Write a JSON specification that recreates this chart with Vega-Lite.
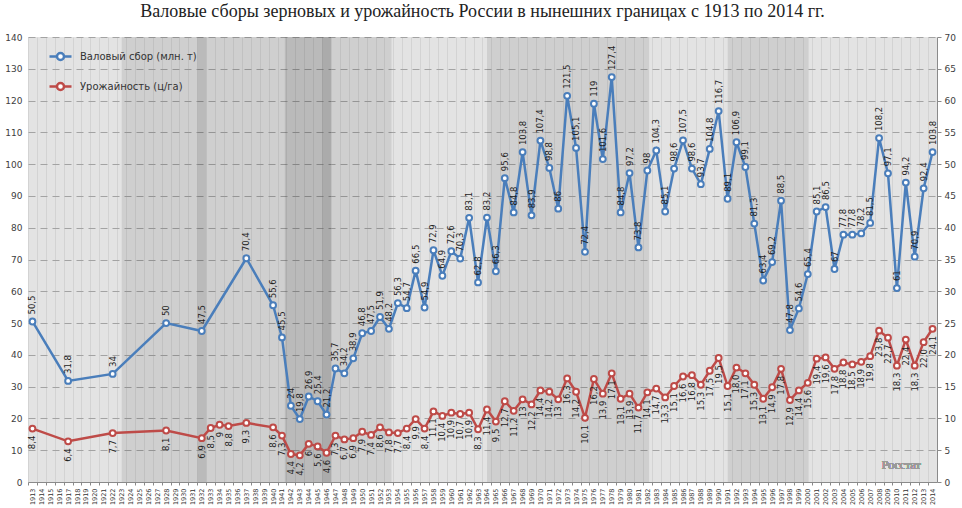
{
  "$schema": "https://vega.github.io/schema/vega-lite/v6.json",
  "width": 909,
  "height": 445,
  "autosize": {"type": "none"},
  "padding": {"left": 28, "top": 37, "right": 25, "bottom": 26},
  "background": "white",
  "title": {
    "text": "Валовые сборы зерновых и урожайность России в нынешних границах с 1913 по 2014 гг.",
    "font": "Liberation Serif",
    "fontSize": 18,
    "fontWeight": "normal",
    "color": "#222222",
    "anchor": "middle",
    "offset": 12
  },
  "datasets": {
    "bands": [
      {"year": 1912.5, "end": 1923, "k": "l"},
      {"year": 1923, "end": 1931.5, "k": "m"},
      {"year": 1931.5, "end": 1932.5, "k": "d"},
      {"year": 1932.5, "end": 1941.3, "k": "m"},
      {"year": 1941.3, "end": 1945.5, "k": "d"},
      {"year": 1945.5, "end": 1946.5, "k": "dd"},
      {"year": 1946.5, "end": 1953.3, "k": "m"},
      {"year": 1953.3, "end": 1964, "k": "l"},
      {"year": 1964, "end": 1982.2, "k": "m"},
      {"year": 1982.2, "end": 1991, "k": "l"},
      {"year": 1991, "end": 2000.1, "k": "m"},
      {"year": 2000.1, "end": 2014.5, "k": "l"}
    ],
    "gross": [
      {"year": 1913, "v": 50.5, "t": "50,5"},
      {"year": 1917, "v": 31.8, "t": "31,8"},
      {"year": 1922, "v": 34, "t": "34"},
      {"year": 1928, "v": 50, "t": "50"},
      {"year": 1932, "v": 47.5, "t": "47,5"},
      {"year": 1937, "v": 70.4, "t": "70,4"},
      {"year": 1940, "v": 55.6, "t": "55,6"},
      {"year": 1941, "v": 45.5, "t": "45,5"},
      {"year": 1942, "v": 24, "t": "24"},
      {"year": 1943, "v": 19.8, "t": "19,8"},
      {"year": 1944, "v": 26.9, "t": "26,9"},
      {"year": 1945, "v": 25.4, "t": "25,4"},
      {"year": 1946, "v": 21.2, "t": "21,2"},
      {"year": 1947, "v": 35.7, "t": "35,7"},
      {"year": 1948, "v": 34.2, "t": "34,2"},
      {"year": 1949, "v": 38.9, "t": "38,9"},
      {"year": 1950, "v": 46.8, "t": "46,8"},
      {"year": 1951, "v": 47.5, "t": "47,5"},
      {"year": 1952, "v": 51.9, "t": "51,9"},
      {"year": 1953, "v": 48.2, "t": "48,2"},
      {"year": 1954, "v": 56.3, "t": "56,3"},
      {"year": 1955, "v": 54.7, "t": "54,7"},
      {"year": 1956, "v": 66.5, "t": "66,5"},
      {"year": 1957, "v": 54.9, "t": "54,9"},
      {"year": 1958, "v": 72.9, "t": "72,9"},
      {"year": 1959, "v": 64.9, "t": "64,9"},
      {"year": 1960, "v": 72.6, "t": "72,6"},
      {"year": 1961, "v": 70.3, "t": "70,3"},
      {"year": 1962, "v": 83.1, "t": "83,1"},
      {"year": 1963, "v": 62.8, "t": "62,8"},
      {"year": 1964, "v": 83.2, "t": "83,2"},
      {"year": 1965, "v": 66.3, "t": "66,3"},
      {"year": 1966, "v": 95.6, "t": "95,6"},
      {"year": 1967, "v": 84.8, "t": "84,8"},
      {"year": 1968, "v": 103.8, "t": "103,8"},
      {"year": 1969, "v": 83.9, "t": "83,9"},
      {"year": 1970, "v": 107.4, "t": "107,4"},
      {"year": 1971, "v": 98.8, "t": "98,8"},
      {"year": 1972, "v": 86, "t": "86"},
      {"year": 1973, "v": 121.5, "t": "121,5"},
      {"year": 1974, "v": 105.1, "t": "105,1"},
      {"year": 1975, "v": 72.4, "t": "72,4"},
      {"year": 1976, "v": 119, "t": "119"},
      {"year": 1977, "v": 101.6, "t": "101,6"},
      {"year": 1978, "v": 127.4, "t": "127,4"},
      {"year": 1979, "v": 84.8, "t": "84,8"},
      {"year": 1980, "v": 97.2, "t": "97,2"},
      {"year": 1981, "v": 73.8, "t": "73,8"},
      {"year": 1982, "v": 98, "t": "98"},
      {"year": 1983, "v": 104.3, "t": "104,3"},
      {"year": 1984, "v": 85.1, "t": "85,1"},
      {"year": 1985, "v": 98.6, "t": "98,6"},
      {"year": 1986, "v": 107.5, "t": "107,5"},
      {"year": 1987, "v": 98.6, "t": "98,6"},
      {"year": 1988, "v": 93.7, "t": "93,7"},
      {"year": 1989, "v": 104.8, "t": "104,8"},
      {"year": 1990, "v": 116.7, "t": "116,7"},
      {"year": 1991, "v": 89.1, "t": "89,1"},
      {"year": 1992, "v": 106.9, "t": "106,9"},
      {"year": 1993, "v": 99.1, "t": "99,1"},
      {"year": 1994, "v": 81.3, "t": "81,3"},
      {"year": 1995, "v": 63.4, "t": "63,4"},
      {"year": 1996, "v": 69.2, "t": "69,2"},
      {"year": 1997, "v": 88.5, "t": "88,5"},
      {"year": 1998, "v": 47.8, "t": "47,8"},
      {"year": 1999, "v": 54.6, "t": "54,6"},
      {"year": 2000, "v": 65.4, "t": "65,4"},
      {"year": 2001, "v": 85.1, "t": "85,1"},
      {"year": 2002, "v": 86.5, "t": "86,5"},
      {"year": 2003, "v": 67, "t": "67"},
      {"year": 2004, "v": 77.8, "t": "77,8"},
      {"year": 2005, "v": 77.8, "t": "77,8"},
      {"year": 2006, "v": 78.2, "t": "78,2"},
      {"year": 2007, "v": 81.5, "t": "81,5"},
      {"year": 2008, "v": 108.2, "t": "108,2"},
      {"year": 2009, "v": 97.1, "t": "97,1"},
      {"year": 2010, "v": 61, "t": "61"},
      {"year": 2011, "v": 94.2, "t": "94,2"},
      {"year": 2012, "v": 70.9, "t": "70,9"},
      {"year": 2013, "v": 92.4, "t": "92,4"},
      {"year": 2014, "v": 103.8, "t": "103,8"}
    ],
    "yield": [
      {"year": 1913, "v": 8.4, "t": "8,4"},
      {"year": 1917, "v": 6.4, "t": "6,4"},
      {"year": 1922, "v": 7.7, "t": "7,7"},
      {"year": 1928, "v": 8.1, "t": "8,1"},
      {"year": 1932, "v": 6.9, "t": "6,9"},
      {"year": 1933, "v": 8.5, "t": "8,5"},
      {"year": 1934, "v": 9, "t": "9"},
      {"year": 1935, "v": 8.8, "t": "8,8"},
      {"year": 1937, "v": 9.3, "t": "9,3"},
      {"year": 1940, "v": 8.6, "t": "8,6"},
      {"year": 1941, "v": 7.3, "t": "7,3"},
      {"year": 1942, "v": 4.4, "t": "4,4"},
      {"year": 1943, "v": 4.2, "t": "4,2"},
      {"year": 1944, "v": 6, "t": "6"},
      {"year": 1945, "v": 5.6, "t": "5,6"},
      {"year": 1946, "v": 4.6, "t": "4,6"},
      {"year": 1947, "v": 7.3, "t": "7,3"},
      {"year": 1948, "v": 6.7, "t": "6,7"},
      {"year": 1949, "v": 6.9, "t": "6,9"},
      {"year": 1950, "v": 7.9, "t": "7,9"},
      {"year": 1951, "v": 7.4, "t": "7,4"},
      {"year": 1952, "v": 8.6, "t": "8,6"},
      {"year": 1953, "v": 7.8, "t": "7,8"},
      {"year": 1954, "v": 7.7, "t": "7,7"},
      {"year": 1955, "v": 8.4, "t": "8,4"},
      {"year": 1956, "v": 9.9, "t": "9,9"},
      {"year": 1957, "v": 8.4, "t": "8,4"},
      {"year": 1958, "v": 11.1, "t": "11,1"},
      {"year": 1959, "v": 10.4, "t": "10,4"},
      {"year": 1960, "v": 10.9, "t": "10,9"},
      {"year": 1961, "v": 10.7, "t": "10,7"},
      {"year": 1962, "v": 10.9, "t": "10,9"},
      {"year": 1963, "v": 8.3, "t": "8,3"},
      {"year": 1964, "v": 11.4, "t": "11,4"},
      {"year": 1965, "v": 9.5, "t": "9,5"},
      {"year": 1966, "v": 12.7, "t": "12,7"},
      {"year": 1967, "v": 11.2, "t": "11,2"},
      {"year": 1968, "v": 13, "t": "13"},
      {"year": 1969, "v": 12.2, "t": "12,2"},
      {"year": 1970, "v": 14.4, "t": "14,4"},
      {"year": 1971, "v": 14.2, "t": "14,2"},
      {"year": 1972, "v": 13, "t": "13"},
      {"year": 1973, "v": 16.3, "t": "16,3"},
      {"year": 1974, "v": 14.2, "t": "14,2"},
      {"year": 1975, "v": 10.1, "t": "10,1"},
      {"year": 1976, "v": 16.2, "t": "16,2"},
      {"year": 1977, "v": 13.9, "t": "13,9"},
      {"year": 1978, "v": 17.1, "t": "17,1"},
      {"year": 1979, "v": 13.1, "t": "13,1"},
      {"year": 1980, "v": 13.9, "t": "13,9"},
      {"year": 1981, "v": 11.7, "t": "11,7"},
      {"year": 1982, "v": 14.1, "t": "14,1"},
      {"year": 1983, "v": 14.7, "t": "14,7"},
      {"year": 1984, "v": 13.3, "t": "13,3"},
      {"year": 1985, "v": 15.1, "t": "15,1"},
      {"year": 1986, "v": 16.6, "t": "16,6"},
      {"year": 1987, "v": 16.8, "t": "16,8"},
      {"year": 1988, "v": 15.3, "t": "15,3"},
      {"year": 1989, "v": 17.5, "t": "17,5"},
      {"year": 1990, "v": 19.5, "t": "19,5"},
      {"year": 1991, "v": 15.1, "t": "15,1"},
      {"year": 1992, "v": 18.0, "t": "18,0"},
      {"year": 1993, "v": 17.1, "t": "17,1"},
      {"year": 1994, "v": 15.3, "t": "15,3"},
      {"year": 1995, "v": 13.1, "t": "13,1"},
      {"year": 1996, "v": 14.9, "t": "14,9"},
      {"year": 1997, "v": 17.8, "t": "17,8"},
      {"year": 1998, "v": 12.9, "t": "12,9"},
      {"year": 1999, "v": 14.4, "t": "14,4"},
      {"year": 2000, "v": 15.6, "t": "15,6"},
      {"year": 2001, "v": 19.4, "t": "19,4"},
      {"year": 2002, "v": 19.6, "t": "19,6"},
      {"year": 2003, "v": 17.8, "t": "17,8"},
      {"year": 2004, "v": 18.8, "t": "18,8"},
      {"year": 2005, "v": 18.5, "t": "18,5"},
      {"year": 2006, "v": 18.9, "t": "18,9"},
      {"year": 2007, "v": 19.8, "t": "19,8"},
      {"year": 2008, "v": 23.8, "t": "23,8"},
      {"year": 2009, "v": 22.7, "t": "22,7"},
      {"year": 2010, "v": 18.3, "t": "18,3"},
      {"year": 2011, "v": 22.4, "t": "22,4"},
      {"year": 2012, "v": 18.3, "t": "18,3"},
      {"year": 2013, "v": 22.0, "t": "22,0"},
      {"year": 2014, "v": 24.1, "t": "24,1"}
    ]
  },
  "encoding": {
    "x": {
      "field": "year",
      "type": "quantitative",
      "scale": {"domain": [1912.5, 2014.5], "nice": false, "zero": false},
      "axis": {
        "title": null,
        "values": [1913,1914,1915,1916,1917,1918,1919,1920,1921,1922,1923,1924,1925,1926,1927,1928,1929,1930,1931,1932,1933,1934,1935,1936,1937,1938,1939,1940,1941,1942,1943,1944,1945,1946,1947,1948,1949,1950,1951,1952,1953,1954,1955,1956,1957,1958,1959,1960,1961,1962,1963,1964,1965,1966,1967,1968,1969,1970,1971,1972,1973,1974,1975,1976,1977,1978,1979,1980,1981,1982,1983,1984,1985,1986,1987,1988,1989,1990,1991,1992,1993,1994,1995,1996,1997,1998,1999,2000,2001,2002,2003,2004,2005,2006,2007,2008,2009,2010,2011,2012,2013,2014],
        "format": "d",
        "labelAngle": 270,
        "labelFont": "DejaVu Sans",
        "labelFontSize": 6.5,
        "labelColor": "#333333",
        "labelPadding": 3,
        "labelOverlap": false,
        "labelFlush": false,
        "labelBound": false,
        "tickOffset": -4.456,
        "labelOffset": 4.456,
        "grid": true,
        "gridColor": "#eeeeee",
        "gridWidth": 1,
        "ticks": true,
        "tickSize": 3,
        "tickColor": "#8a8a8a",
        "domainColor": "#8a8a8a"
      }
    }
  },
  "layer": [
    {
      "data": {"name": "bands"},
      "mark": {"type": "rect"},
      "encoding": {
        "x2": {"field": "end"},
        "fill": {
          "field": "k",
          "type": "nominal",
          "scale": {"domain": ["l", "m", "d", "dd"], "range": ["rgba(0,0,0,0.11)", "rgba(0,0,0,0.19)", "rgba(0,0,0,0.27)", "rgba(0,0,0,0.33)"]},
          "legend": null
        }
      }
    },
    {
      "data": {"name": "yield"},
      "encoding": {
        "y": {
          "field": "v",
          "type": "quantitative",
          "scale": {"domain": [0, 70], "nice": false},
          "axis": {
            "orient": "right",
            "title": null,
            "values": [0,5,10,15,20,25,30,35,40,45,50,55,60,65,70],
            "grid": false,
            "domain": true,
            "domainColor": "#8a8a8a",
            "ticks": true,
            "tickSize": 4,
            "tickColor": "#8a8a8a",
            "labelFont": "DejaVu Sans",
            "labelFontSize": 9,
            "labelColor": "#404040",
            "labelPadding": 3
          }
        },
        "color": {
          "datum": "Урожайность (ц/га)",
          "type": "nominal",
          "scale": {"domain": ["Валовый сбор (млн. т)", "Урожайность (ц/га)"], "range": ["#4A7EBB", "#BE4B48"]}
        }
      },
      "layer": [
        {"mark": {"type": "line", "strokeWidth": 2.5}},
        {"mark": {"type": "point", "filled": false, "fill": "white", "size": 34, "strokeWidth": 2, "opacity": 1}},
        {
          "mark": {"type": "text", "angle": 270, "align": "right", "baseline": "middle", "dx": -7, "font": "DejaVu Sans", "fontSize": 8.5},
          "encoding": {"text": {"field": "t"}, "color": {"value": "#222222"}}
        }
      ]
    },
    {
      "data": {"name": "gross"},
      "encoding": {
        "y": {
          "field": "v",
          "type": "quantitative",
          "scale": {"domain": [0, 140], "nice": false},
          "axis": {
            "orient": "left",
            "title": null,
            "values": [0,10,20,30,40,50,60,70,80,90,100,110,120,130,140],
            "grid": true,
            "gridColor": "#b8b8b8",
            "gridDash": [7, 5],
            "gridWidth": 1,
            "domain": false,
            "ticks": false,
            "labelFont": "DejaVu Sans",
            "labelFontSize": 9,
            "labelColor": "#404040",
            "labelPadding": 6
          }
        },
        "color": {
          "datum": "Валовый сбор (млн. т)",
          "type": "nominal",
          "scale": {"domain": ["Валовый сбор (млн. т)", "Урожайность (ц/га)"], "range": ["#4A7EBB", "#BE4B48"]},
          "legend": {
            "title": null,
            "orient": "none",
            "legendX": 20,
            "legendY": 7,
            "padding": 0,
            "symbolType": "M-1,0L-0.32,0M0.32,0L1,0M-0.32,0A0.32,0.32,0,1,1,0.32,0A0.32,0.32,0,1,1,-0.32,0Z",
            "symbolSize": 484,
            "symbolStrokeWidth": 2.5,
            "symbolFillColor": "white",
            "labelFont": "DejaVu Sans",
            "labelFontSize": 10,
            "labelColor": "#333333",
            "labelOffset": 7,
            "rowPadding": 8
          }
        }
      },
      "layer": [
        {"mark": {"type": "line", "strokeWidth": 2.5}},
        {"mark": {"type": "point", "filled": false, "fill": "white", "size": 34, "strokeWidth": 2, "opacity": 1}},
        {
          "mark": {"type": "text", "angle": 270, "align": "left", "baseline": "middle", "dx": 7, "font": "DejaVu Sans", "fontSize": 8.5},
          "encoding": {"text": {"field": "t"}, "color": {"value": "#222222"}}
        },
        {
          "mark": {"type": "text", "font": "Liberation Serif", "fontSize": 12, "align": "center", "baseline": "middle"},
          "encoding": {"x": {"datum": 2010.5}, "y": {"datum": 5.5}, "text": {"value": "Росстат"}, "color": {"value": "#9a9a9a"}}
        }
      ]
    }
  ],
  "resolve": {"scale": {"y": "independent"}},
  "config": {
    "view": {"stroke": null},
    "axis": {"labelFont": "DejaVu Sans"}
  }
}
